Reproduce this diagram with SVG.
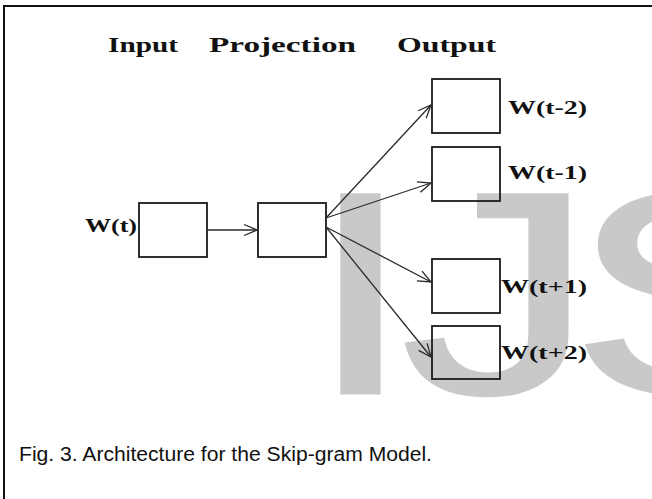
<svg xmlns="http://www.w3.org/2000/svg" width="652" height="499" viewBox="0 0 652 499">
  <style>
    .frame { stroke: #111; stroke-width: 2; fill: none; }
    .box { fill: none; stroke: #1a1a1a; stroke-width: 1.8; }
    .edge { stroke: #2a2a2a; stroke-width: 1.3; fill: none; marker-end: url(#open); }
    .hdr { font-family: "Liberation Serif", "Times New Roman", serif; font-weight: bold; font-size: 20px; fill: #111; }
    .lbl { font-family: "Liberation Serif", "Times New Roman", serif; font-weight: bold; font-size: 18px; fill: #111; }
    .cap { font-family: "Liberation Sans", Arial, sans-serif; font-size: 20px; fill: #111; }
    .mark { font-family: "Liberation Sans", Arial, sans-serif; font-size: 288px; fill: #c9c9c9; stroke: #c9c9c9; stroke-width: 3; }
  </style>
  <defs>
    <marker id="open" markerUnits="userSpaceOnUse" markerWidth="16" markerHeight="14" viewBox="-14 -7 15 14" refX="0" refY="0" orient="auto">
      <path d="M -13,-5.5 L 0,0 L -13,5.5" fill="none" stroke="#2a2a2a" stroke-width="1.3"/>
    </marker>
  </defs>

  <rect width="652" height="499" fill="#fff"/>

  <!-- page frame -->
  <path class="frame" d="M 4,499 L 4,6 L 652,6"/>

  <!-- watermark lettering, widened horizontally -->
  <g transform="scale(1.35,1)">
    <text class="mark" x="227" y="393">I</text>
    <text class="mark" x="297" y="393">J</text>
    <text class="mark" x="422" y="393">S</text>
  </g>

  <!-- column headings -->
  <g id="headings">
    <text class="hdr" x="108" y="52" textLength="70" lengthAdjust="spacingAndGlyphs">Input</text>
    <text class="hdr" x="209" y="52" textLength="147" lengthAdjust="spacingAndGlyphs">Projection</text>
    <text class="hdr" x="397" y="52" textLength="99" lengthAdjust="spacingAndGlyphs">Output</text>
  </g>

  <g id="input">
    <rect class="box" x="139" y="203" width="68" height="54"/>
    <text class="lbl" x="85" y="232" textLength="52" lengthAdjust="spacingAndGlyphs">W(t)</text>
  </g>

  <g id="projection">
    <rect class="box" x="258" y="203" width="68" height="54"/>
  </g>

  <g id="out-t-2">
    <rect class="box" x="432" y="79" width="68" height="54"/>
    <text class="lbl" x="508" y="114" textLength="79" lengthAdjust="spacingAndGlyphs">W(t-2)</text>
  </g>
  <g id="out-t-1">
    <rect class="box" x="432" y="147" width="68" height="54"/>
    <text class="lbl" x="508" y="179" textLength="79" lengthAdjust="spacingAndGlyphs">W(t-1)</text>
  </g>
  <g id="out-t+1">
    <rect class="box" x="432" y="259" width="68" height="54"/>
    <text class="lbl" x="501" y="293" textLength="86" lengthAdjust="spacingAndGlyphs">W(t+1)</text>
  </g>
  <g id="out-t+2">
    <rect class="box" x="432" y="326" width="68" height="53"/>
    <text class="lbl" x="501" y="359" textLength="86" lengthAdjust="spacingAndGlyphs">W(t+2)</text>
  </g>

  <!-- connectors -->
  <g id="edges">
    <line class="edge" x1="207" y1="230" x2="257" y2="230"/>
    <line class="edge" x1="326" y1="218" x2="431" y2="105"/>
    <line class="edge" x1="326" y1="218" x2="431" y2="183"/>
    <line class="edge" x1="326" y1="227" x2="431" y2="282"/>
    <line class="edge" x1="326" y1="227" x2="431" y2="357"/>
  </g>

  <text class="cap" x="19" y="461" textLength="413" lengthAdjust="spacingAndGlyphs">Fig. 3. Architecture for the Skip-gram Model.</text>
</svg>
